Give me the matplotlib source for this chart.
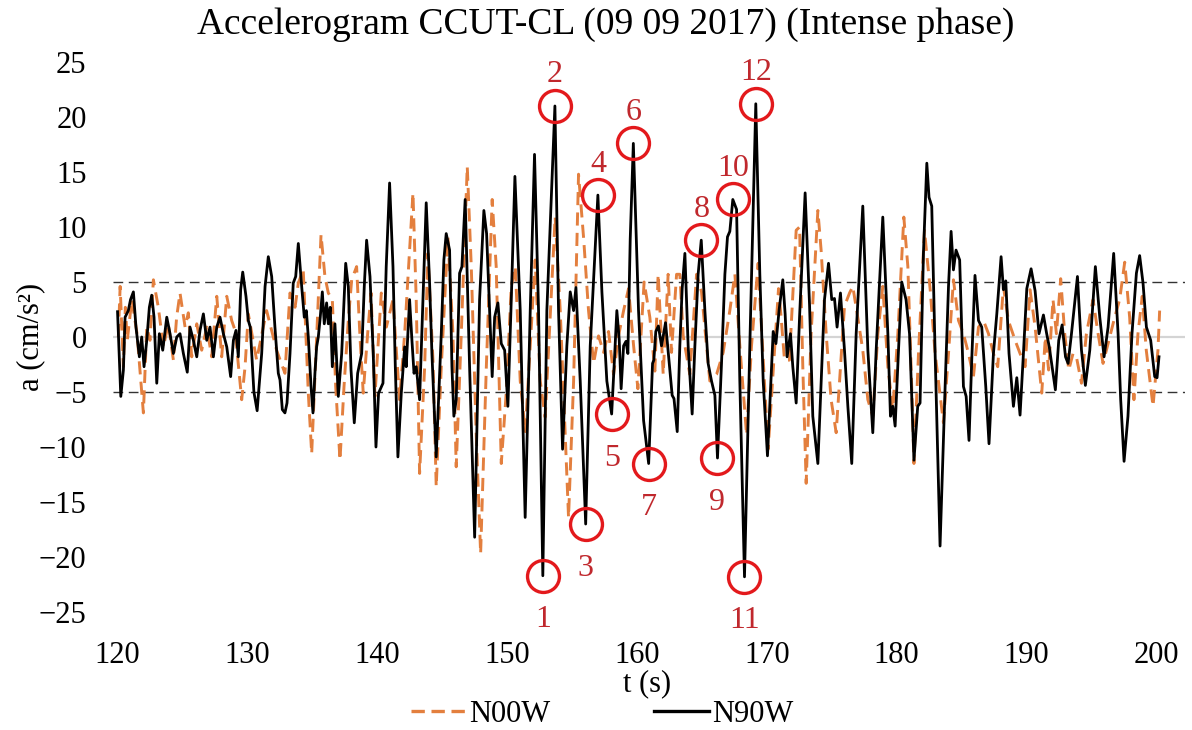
import numpy as np
import matplotlib
matplotlib.use("Agg")
import matplotlib.pyplot as plt
from matplotlib.lines import Line2D

plt.rcParams["font.family"] = ["Liberation Serif", "DejaVu Serif"]

# N90W component (black), t in s, a in cm/s^2
t_n90w = [
    120.0, 120.25, 120.45, 120.58, 120.83, 121.0, 121.22, 121.42, 121.68, 121.86,
    122.04, 122.25, 122.45, 122.63, 122.81, 123.02, 123.22, 123.48, 123.79, 124.04,
    124.3, 124.56, 124.81, 125.07, 125.37, 125.58, 125.84, 126.1, 126.35, 126.61,
    126.87, 127.12, 127.38, 127.64, 127.89, 128.15, 128.41, 128.71, 128.92, 129.12,
    129.3, 129.48, 129.64, 129.89, 130.07, 130.22, 130.5, 130.75, 131.1, 131.36,
    131.61, 131.87, 132.12, 132.38, 132.51, 132.69, 132.89, 133.05, 133.28, 133.53,
    133.72, 133.92, 134.18, 134.38, 134.54, 134.69, 134.9, 135.05, 135.2, 135.33,
    135.46, 135.61, 135.77, 135.92, 136.1, 136.23, 136.38, 136.54, 136.74, 137.0,
    137.26, 137.57, 137.77, 137.98, 138.23, 138.49, 138.8, 139.0, 139.18, 139.44,
    139.69, 139.9, 140.1, 140.44, 140.69, 140.95, 141.21, 141.39, 141.59, 141.85,
    142.11, 142.23, 142.49, 142.67, 142.83, 143.0, 143.26, 143.52, 143.77, 144.03,
    144.21, 144.54, 144.93, 145.13, 145.31, 145.57, 145.75, 145.9, 146.08, 146.34,
    146.52, 146.77, 147.11, 147.5, 147.88, 148.21, 148.42, 148.85, 149.04, 149.29,
    149.55, 149.81, 150.06, 150.32, 150.6, 151.01, 151.39, 151.78, 152.11, 152.42,
    152.75, 153.06, 153.68, 153.96, 154.27, 154.6, 154.86, 155.12, 155.3, 155.63,
    156.05, 156.4, 156.99, 157.3, 157.68, 158.05, 158.25, 158.45, 158.63, 158.78,
    158.97, 159.15, 159.3, 159.48, 159.72, 160.12, 160.51, 160.9, 161.2, 161.3,
    161.45, 161.65, 161.89, 162.2, 162.46, 162.71, 162.85, 163.1, 163.3, 163.48,
    163.69, 163.94, 164.25, 164.46, 164.71, 164.95, 165.23, 165.48, 165.74, 166.0,
    166.2, 166.51, 166.77, 166.97, 167.15, 167.38, 167.67, 167.92, 168.28, 168.69,
    169.15, 169.46, 169.72, 170.05, 170.31, 170.49, 170.7, 170.95, 171.23, 171.41,
    171.56, 171.82, 172.0, 172.26, 172.52, 172.95, 173.29, 173.54, 173.93, 174.18,
    174.44, 174.75, 175.0, 175.21, 175.41, 175.67, 175.98, 176.24, 176.54, 176.88,
    177.39, 177.78, 178.16, 178.42, 178.93, 179.32, 179.52, 179.7, 179.88, 180.14,
    180.39, 180.72, 180.99, 181.33, 181.62, 181.8, 182.06, 182.32, 182.49, 182.7,
    182.96, 183.34, 183.73, 183.99, 184.19, 184.37, 184.57, 184.85, 185.14, 185.35,
    185.57, 185.78, 186.03, 186.3, 186.55, 186.86, 187.11, 187.45, 187.71, 188.04,
    188.22, 188.4, 188.65, 188.99, 189.25, 189.5, 189.76, 190.02, 190.35, 190.66,
    190.96, 191.3, 191.55, 191.75, 191.86, 192.22, 192.48, 192.74, 193.0, 193.2,
    193.46, 193.92, 194.23, 194.53, 194.87, 195.3, 195.64, 195.97, 196.28, 196.71,
    197.05, 197.25, 197.51, 197.81, 198.12, 198.46, 198.71, 198.97, 199.23, 199.56,
    199.87, 200.05, 200.2,
]
a_n90w = [
    2.3, -5.4, -3.0, 1.8, 2.4, 3.4, 4.1, 0.9, -1.8, 0.0,
    -2.7, -0.3, 2.7, 3.8, 1.8, -4.2, 0.3, -1.2, 1.8, 0.3,
    -1.5, 0.0, 0.3, -1.5, -3.2, 0.9, -0.3, -1.8, 0.6, 2.1,
    -0.3, 0.9, -1.8, 0.9, 1.8, 0.3, -0.9, -3.6, -0.3, 0.6,
    -1.8, 4.3, 5.9, 3.7, 1.5, 0.9, -5.0, -6.7, -1.5, 4.6,
    7.3, 5.5, 0.9, -3.3, -3.9, -6.6, -6.9, -6.0, -1.5, 4.9,
    5.5, 8.5, 4.6, 1.8, 2.4, 0.0, -4.5, -6.9, -3.3, -0.9,
    0.0, 1.8, 4.1, 1.2, 3.1, 1.2, 2.7, -2.7, 1.2, -5.4,
    -1.5, 6.7, 4.6, -3.0, -7.8, -3.3, -1.5, 4.6, 8.8, 5.5,
    -1.5, -10.0, -5.1, -4.2, 6.4, 14.0, 6.4, -2.7, -10.9, -5.1,
    -0.9, -2.7, 3.4, -0.3, -3.3, -2.7, -5.7, 3.4, 12.2, 4.9,
    -1.5, -10.9, 0.3, 7.0, 9.4, 7.9, -2.7, -7.2, -5.7, 5.8,
    6.4, 12.5, -2.7, -18.2, 3.4, 11.5, 9.4, -3.6, 1.8, 3.1,
    -0.6, -1.2, -6.3, 3.4, 14.6, 2.4, -16.4, 2.4, 16.6, 2.4,
    -21.7, 2.4, 21.0, 2.4, -10.2, -0.8, 4.1, 2.4, 4.5, -4.0,
    -17.0, -0.8, 12.9, 4.1, -4.0, -7.0, -2.4, 2.4, -0.2, -4.7,
    -0.8, -0.4, -1.5, 8.9, 17.6, 2.4, -7.6, -11.5, -2.4, -2.1,
    0.5, 1.0, -0.8, 1.3, -2.1, -5.3, -5.6, -8.6, -0.8, 4.4,
    7.6, -0.8, -7.0, -0.8, 5.7, 8.8, 2.4, -2.4, -4.0, -5.3,
    -11.0, -2.4, 5.7, 9.1, 9.6, 12.5, 11.6, -4.0, -21.8, -0.8,
    21.2, 5.7, -4.0, -10.8, -4.0, 0.5, -0.6, 2.5, 5.2, 2.1,
    -1.8, 0.3, -2.7, -6.0, 1.8, 13.1, 2.9, -7.2, -11.5, -4.2,
    3.4, 6.7, 3.4, 3.5, 0.9, 4.0, -1.2, -6.3, -11.5, 0.3,
    11.9, -1.2, -8.7, -1.2, 10.9, 0.3, -7.2, -6.3, -8.1, -1.2,
    5.0, 3.4, 0.3, -11.2, -6.3, -6.0, 7.6, 15.8, 12.7, 11.9,
    -1.5, -19.0, -4.5, 4.6, 9.6, 6.1, 7.9, 7.0, -4.5, -5.4,
    -9.4, -2.1, 5.6, 1.5, 0.9, -4.5, -9.7, -1.5, 2.1, 7.3,
    4.3, 5.1, -1.5, -6.3, -3.7, -7.1, -1.5, 4.4, 6.2, 4.2,
    0.3, 2.0, 0.3, -0.9, -1.8, -4.8, -0.3, 1.1, -1.8, -2.4,
    0.3, 5.5, -1.2, -4.4, -1.2, 6.4, 1.8, -1.8, 0.9, 7.6,
    0.3, -5.7, -11.3, -7.2, 0.3, 5.8, 7.4, 4.9, 0.9, -0.3,
    -3.6, -3.7, -1.8,
]

# N00W component (orange, dashed)
t_n00w = [
    120.06, 120.2, 120.45, 120.6, 120.75, 121.1, 121.5, 121.99, 122.25, 122.5,
    122.76, 123.14, 123.53, 123.91, 124.3, 124.55, 124.81, 125.2, 125.45, 125.71,
    126.1, 126.48, 126.87, 127.25, 127.64, 128.02, 128.41, 128.79, 129.05, 129.56,
    129.82, 130.07, 130.71, 131.48, 132.25, 132.89, 133.28, 133.67, 133.92, 134.3,
    134.69, 134.95, 135.33, 135.67, 135.97, 136.23, 136.54, 136.8, 137.13, 137.44,
    137.77, 138.03, 138.41, 138.67, 138.92, 139.26, 139.52, 139.82, 140.31, 140.7,
    141.21, 141.72, 142.11, 142.75, 143.0, 143.26, 143.65, 143.9, 144.29, 144.54,
    144.93, 145.44, 145.83, 146.08, 146.47, 146.93, 147.24, 147.62, 147.96, 148.4,
    148.85, 149.16, 149.55, 149.93, 150.32, 150.63, 151.01, 151.4, 151.78, 152.16,
    152.55, 152.93, 153.7, 154.09, 154.42, 154.73, 155.12, 155.5, 155.89, 156.27,
    156.66, 157.04, 157.43, 157.81, 158.2, 158.58, 158.97, 159.35, 159.74, 160.07,
    160.55, 160.99, 161.38, 161.63, 162.02, 162.4, 162.66, 163.05, 163.3, 163.56,
    164.07, 164.59, 164.97, 165.36, 165.61, 166.13, 166.64, 167.15, 167.54, 167.92,
    168.44, 168.82, 169.33, 169.59, 170.1, 170.62, 170.9, 171.1, 171.36, 171.74,
    172.26, 172.52, 172.77, 173.03, 173.41, 173.93, 174.18, 174.57, 174.95, 175.34,
    175.59, 175.98, 176.37, 176.62, 177.0, 177.39, 177.78, 178.16, 178.55, 178.93,
    179.32, 179.7, 180.09, 180.55, 180.86, 181.11, 181.33, 181.68, 182.14, 182.58,
    182.96, 183.6, 183.99, 184.37, 184.76, 185.14, 185.53, 185.91, 186.3, 186.68,
    187.07, 187.45, 187.78, 188.22, 188.6, 189.12, 189.5, 189.89, 190.27, 190.66,
    191.17, 191.45, 191.7, 192.04, 192.3, 192.63, 192.94, 193.25, 193.58, 193.84,
    194.23, 194.61, 195.12, 195.51, 195.89, 196.28, 196.79, 197.17, 197.56, 197.94,
    198.27, 198.58, 198.91, 199.22, 199.74, 200.12, 200.25,
]
a_n00w = [
    0.0, 4.6, -2.7, 2.7, -0.3, 3.4, 0.3, -6.9, 0.9, -0.3,
    5.2, 2.7, -0.9, 1.2, -2.1, 1.8, 4.0, 0.9, 2.2, -1.8,
    1.2, -1.2, 0.9, -1.8, 3.7, -1.8, 3.7, 1.5, 0.6, -5.7,
    -2.7, 2.1, -2.1, 2.4, -1.2, -3.3, 4.0, 2.7, 4.9, 6.1,
    -5.1, -10.6, 0.0, 9.3, 5.5, 4.0, 3.4, -4.5, -11.2, -4.5,
    1.5, 5.2, 6.4, 0.0, -5.1, 0.3, 4.0, -5.4, 4.0, 0.9,
    3.4, -5.7, 0.3, 13.1, 3.4, -12.4, -2.7, 7.6, -2.1, -13.6,
    -2.7, 9.1, 0.3, -11.8, 0.3, 15.5, 6.4, -8.8, -19.7, -2.7,
    12.5, 6.4, -11.5, -5.1, 4.6, 6.4, -4.0, -8.6, -0.8, 7.0,
    -4.0, -7.3, 10.9, 2.4, -7.3, -16.4, -4.0, 14.8, 9.0, 2.4,
    -2.4, 0.1, -1.4, 0.5, -3.4, 0.1, 2.4, 4.4, -0.8, -4.7,
    5.0, 1.8, -3.1, 5.7, -3.4, 5.7, -1.4, 5.7, 5.7, 0.1,
    -3.4, 5.7, 4.1, -0.8, -4.0, -3.4, -1.4, 2.4, 5.7, -0.8,
    -8.9, -0.8, 6.7, 0.8, -10.2, -0.8, 4.4, 1.8, -2.1, -2.1,
    9.7, 10.0, -2.7, -13.3, 0.3, 11.5, 7.9, 0.3, -5.7, -8.7,
    -4.2, 2.8, 4.0, 4.6, 1.8, -1.2, -5.7, -7.2, 0.3, 4.6,
    -2.7, -6.6, 0.3, 10.9, 6.4, -2.7, -11.5, -1.5, 9.7, 4.3,
    -1.5, -7.8, -1.5, 5.2, 1.5, 0.3, -1.5, -3.6, 0.9, 1.5,
    0.3, -1.5, -2.7, 4.6, 1.5, -0.3, -1.5, -2.7, 4.3, 0.9,
    -5.1, 0.0, -3.0, 3.4, 0.3, 5.3, 0.3, -3.0, -1.5, -1.8,
    -4.2, 0.3, 3.4, 0.3, -2.4, -0.6, 1.8, 3.4, 6.8, 1.8,
    -5.7, 0.3, 3.7, -1.2, -6.3, -1.2, 2.4,
]

# numbered peaks on the N90W record
peak_ids = [1, 2, 3, 4, 5, 6, 7, 8, 9, 10, 11, 12]
peak_t = [152.75, 153.68, 156.05, 156.99, 158.05, 159.72,
          160.9, 164.95, 166.2, 167.38, 168.28, 169.15]

LIMIT = 5.0
ORANGE = "#E37F3E"
RED = "#E3191C"
RED_TXT = "#C0282D"

t90 = np.array(t_n90w)
a90 = np.array(a_n90w)

fig = plt.figure(figsize=(11.92, 7.30), dpi=100)
ax = fig.add_axes([0.0948, 0.1616, 0.8993, 0.7535])

ax.axhline(0, color="#d4d4d4", lw=1.6, zorder=1)
for y in (LIMIT, -LIMIT):
    ax.axhline(y, color="#333333", lw=1.0, dashes=(7, 4), zorder=1)

ax.plot(t_n00w, a_n00w, color=ORANGE, lw=2.1, dashes=(4.5, 2.5),
        zorder=2, label="N00W")
ax.plot(t90, a90, color="black", lw=2.0, zorder=3, label="N90W")

for pid, tp in zip(peak_ids, peak_t):
    i = int(np.argmin(np.abs(t90 - tp)))
    ax.plot(t90[i], a90[i], "o", ms=23, mfc="none", mec=RED, mew=2.4, zorder=4)
    dy = 31 if a90[i] > 0 else -44
    ax.annotate(str(pid), (t90[i], a90[i]), xytext=(0, dy),
                textcoords="offset pixels", ha="center", va="center",
                fontsize=23, color=RED_TXT, zorder=5)

ax.set_xlim(119.65, 202.2)
ax.set_ylim(-25, 25)
ax.set_xticks(np.arange(120, 201, 10))
ax.set_yticks(np.arange(-25, 26, 5))
ax.tick_params(length=0, labelsize=22)
ax.tick_params(axis="x", pad=21)
ax.tick_params(axis="y", pad=19)
for s in ax.spines.values():
    s.set_visible(False)

fig.text(0.508, 0.966, "Accelerogram CCUT-CL (09 09 2017) (Intense phase)",
         ha="center", va="center", fontsize=27)
fig.text(0.026, 0.538, "a (cm/s²)", rotation=90, ha="center", va="center",
         fontsize=22)
fig.text(0.543, 0.064, "t (s)", ha="center", va="center", fontsize=22)

handles = [
    Line2D([], [], color=ORANGE, lw=2.4, dashes=(4, 2)),
    Line2D([], [], color="black", lw=2.4),
]
fig.legend(handles, ["N00W", "N90W"], loc="center", ncol=2,
           bbox_to_anchor=(0.505, 0.021), frameon=False, fontsize=22,
           handlelength=1.8, handletextpad=0.1, columnspacing=3.4,
           borderpad=0)

fig.savefig("out.png", dpi=100)
